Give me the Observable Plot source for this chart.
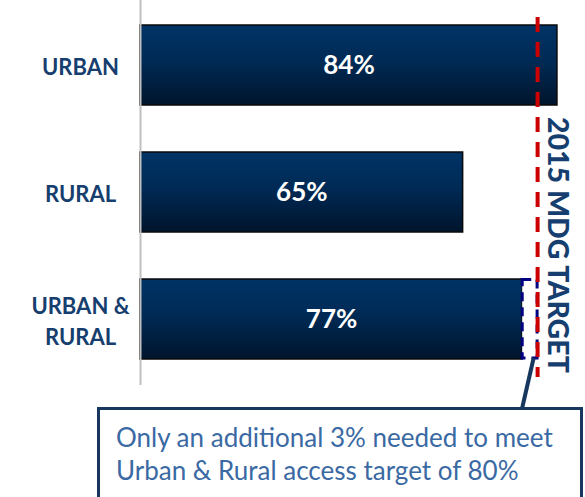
<!DOCTYPE html>
<html>
<head>
<meta charset="utf-8">
<script src="https://cdn.jsdelivr.net/npm/d3@7"></script>
<script src="https://cdn.jsdelivr.net/npm/@observablehq/plot@0.6"></script>
<style>
  html, body { margin: 0; padding: 0; background: #fff; }
  #chart { width: 585px; height: 497px; overflow: hidden; }
</style>
</head>
<body>
<div id="chart"></div>
<script>
const categories = ["URBAN", "RURAL", "URBAN &\nRURAL"];
const values = [84, 65, 77];
const labels = ["84%", "65%", "77%"];
const target = 80;
const targetLabel = "2015 MDG TARGET";
const calloutLines = ["Only an additional 3% needed to meet", "Urban & Rural access target of 80%"];

const data = categories.map((c, i) => ({cat: c, value: values[i], label: labels[i]}));
const gapRow = [{cat: categories[2], x1: values[2], x2: target}];

const navy = "#163e6e";

const plot = Plot.plot({
  width: 585,
  height: 497,
  marginLeft: 140,
  marginRight: 0,
  marginTop: 0,
  marginBottom: 112,
  style: {fontFamily: "Lato, sans-serif", background: "#fff", overflow: "visible"},
  x: {domain: [0, 89.65], axis: null},
  y: {domain: categories, paddingInner: 0.37, paddingOuter: 0.19, label: null},
  marks: [
    () => {
      const svgNS = "http://www.w3.org/2000/svg";
      const defs = document.createElementNS(svgNS, "defs");
      defs.innerHTML = `<linearGradient id="barGrad" x1="0" y1="0" x2="0" y2="1">
        <stop offset="0" stop-color="#003366"/>
        <stop offset="0.45" stop-color="#002a55"/>
        <stop offset="1" stop-color="#00142c"/>
      </linearGradient>`;
      return defs;
    },
    Plot.axisY({tickSize: 0, tickPadding: 60, textAnchor: "middle", fontSize: 22, fontWeight: "bold", fill: navy, lineHeight: 1.4}),
    Plot.barX(data, {x: "value", y: "cat", fill: "url(#barGrad)", stroke: "#0a0a0a", strokeWidth: 1.5}),
    Plot.barX(gapRow, {x1: "x1", x2: "x2", y: "cat", fill: "#fff", stroke: "#000080", strokeWidth: 3, strokeDasharray: "9,6", insetTop: 0.5, insetBottom: 1}),
    Plot.text(data, {x: d => d.value / 2, y: "cat", text: "label", fill: "#fff", fontSize: 26, fontWeight: "bold"}),
    Plot.ruleX([0], {stroke: "#c0c0c0", strokeWidth: 2}),
    Plot.ruleX([target], {stroke: "#cc0000", strokeWidth: 4, strokeDasharray: "15,10", insetTop: 17, insetBottom: 8}),
  ]
});

document.getElementById("chart").appendChild(plot);

// annotations positioned from the scales
const xs = plot.scale("x");
const svg = d3.select(plot);
const tx = xs.apply(target);

// rotated target label
svg.append("text")
  .attr("transform", `translate(${tx + 22},117) rotate(90)`)
  .attr("text-anchor", "start")
  .attr("dominant-baseline", "central")
  .attr("font-family", "Lato, sans-serif")
  .attr("font-weight", 900)
  .attr("font-size", 28.5)
  .attr("fill", navy)
  .text(targetLabel);

// leader line
svg.append("line")
  .attr("x1", xs.apply(79.3)).attr("y1", 358)
  .attr("x2", xs.apply(76.9)).attr("y2", 410)
  .attr("stroke", "#17375e").attr("stroke-width", 4);

// callout box
svg.append("rect")
  .attr("x", 98.5).attr("y", 408.5)
  .attr("width", 483).attr("height", 110)
  .attr("fill", "#fff").attr("stroke", "#17375e").attr("stroke-width", 3);

const ct = svg.append("text")
  .attr("text-anchor", "start")
  .attr("font-family", "Lato, sans-serif")
  .attr("font-size", 26)
  .attr("fill", "#3a69a3");
calloutLines.forEach((l, i) => {
  ct.append("tspan").attr("x", 116).attr("y", 447 + i * 33).text(l);
});
</script>
</body>
</html>
